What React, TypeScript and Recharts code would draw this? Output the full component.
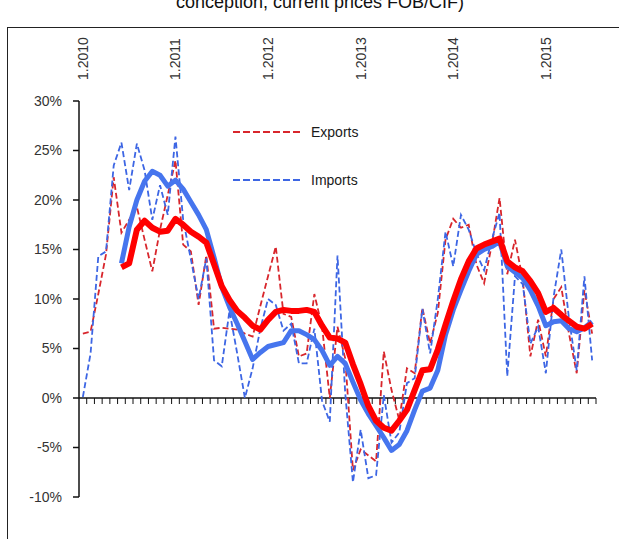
import { LineChart, Line, XAxis, YAxis, ReferenceLine } from "recharts";

const FONT = "'Liberation Sans', Arial, sans-serif";

// Jan 2010 .. Jul 2015, monthly
const MONTHS = Array.from({ length: 67 }, (_, i) => `${(i % 12) + 1}.${2010 + Math.floor(i / 12)}`);
const YEAR_TICKS = ["1.2010", "1.2011", "1.2012", "1.2013", "1.2014", "1.2015"];
const Y_TICKS = [-10, -5, 0, 5, 10, 15, 20, 25, 30];

// y/y change, %
const EXPORTS = [
  6.5, 6.7, 10.5, 14.5, 22.3, 16.7, 18.0, 19.3, 16.0, 12.8, 17.0, 20.5,
  24.0, 15.5, 14.8, 9.4, 14.4, 7.0, 7.1, 7.0, 6.9, 6.5, 6.2, 9.3,
  12.3, 15.3, 8.5, 8.2, 4.2, 4.5, 10.5, 7.2, 0.0, 7.2, 4.0, -7.3,
  -5.2, -5.8, -6.4, 4.7, 0.8, -2.2, 3.0, 2.5, 9.1, 5.5, 8.6, 16.0,
  18.1, 17.2, 17.5, 13.5, 11.6, 15.5, 20.2, 12.5, 16.0, 12.0, 4.2, 7.9,
  4.2, 10.0, 11.2, 6.5, 2.5, 10.9, 6.5,
];
const IMPORTS = [
  0.1, 4.5, 14.3, 14.8, 23.5, 25.8, 21.0, 25.7, 23.0, 18.0, 21.5, 18.5,
  26.4, 18.0, 14.0, 10.0, 14.1, 3.8, 3.2, 8.8, 4.5, 0.0, 3.0, 7.0,
  10.0, 9.4, 6.8, 7.5, 3.5, 3.5, 7.0, -0.3, -2.4, 14.4, 0.5, -8.5,
  -3.2, -8.1, -7.8, 0.3, -4.5, -3.5, 1.5, 2.0, 9.0, 4.5, 10.0, 16.8,
  13.3, 18.5, 17.0, 14.6, 12.9, 16.0, 18.7, 2.2, 12.3, 11.5, 5.5, 7.2,
  2.5, 10.2, 15.0, 8.0, 2.8, 12.3, 3.8,
];
// moving averages (thick lines)
const EXPORTS_MA = [
  null, null, null, null, null, 13.2, 13.6, 17.0, 17.9, 17.2, 16.8, 16.9,
  18.1, 17.5, 16.8, 16.3, 15.7, 13.5, 11.3, 9.9, 8.8, 8.1, 7.3, 6.9,
  7.9, 8.7, 8.9, 8.8, 8.8, 8.9, 8.7, 7.3, 6.1, 6.0, 5.6, 3.4,
  1.4, -0.8, -2.3, -3.0, -3.3, -2.3, -1.2, 0.8, 2.8, 2.9, 4.9, 7.4,
  9.8, 12.0, 13.8, 15.1, 15.5, 15.8, 16.1, 13.8, 13.2, 12.8, 11.8, 10.6,
  8.7, 9.1, 8.4, 7.8, 7.2, 7.0, 7.5,
];
const IMPORTS_MA = [
  null, null, null, null, null, 13.6, 17.3, 20.0, 21.9, 22.9, 22.5, 21.4,
  22.0, 21.1, 19.8, 18.5, 17.0, 14.2, 11.2, 9.2, 7.5, 5.7, 3.9, 4.6,
  5.2, 5.4, 5.6, 6.8, 6.8, 6.4, 5.9, 4.8, 3.3, 4.2, 3.5, 1.6,
  -0.2, -1.6, -2.8, -4.0, -5.3, -4.7, -3.3, -1.2, 0.7, 1.0, 2.8, 6.4,
  8.9, 10.9, 12.8, 14.5, 15.0, 15.3, 15.8, 13.3, 12.7, 12.1, 10.9, 9.3,
  7.3, 7.7, 7.8, 7.0, 6.7, 7.1, 7.7,
];

const data = MONTHS.map((month, i) => ({
  month,
  exports: EXPORTS[i],
  imports: IMPORTS[i],
  exportsMA: EXPORTS_MA[i],
  importsMA: IMPORTS_MA[i],
}));

const RED_DASH = "#d8262c";
const BLUE_DASH = "#3d66e4";
const RED = "#ff0000";
const BLUE = "#4675ee";

const YearTick = (props: any) => {
  const { x, y, payload } = props;
  if (!YEAR_TICKS.includes(payload.value)) return <g />;
  const tx = x + 5;
  return (
    <text x={tx} y={y} transform={`rotate(-90 ${tx} ${y})`} textAnchor="start"
      fontSize={14} fill="#333" fontFamily={FONT}>
      {payload.value}
    </text>
  );
};

// zero line acting as the category axis, with a tick at each month boundary
const ZeroAxis = (props: any) => {
  const { x1, x2, y1 } = props;
  const left = Math.min(x1, x2);
  const right = Math.max(x1, x2);
  const step = (right - left) / MONTHS.length;
  return (
    <g>
      <line x1={left} x2={right} y1={y1} y2={y1} stroke="#111" strokeWidth={1.5} />
      {MONTHS.map((m, k) => (
        <line key={m} x1={left + (k + 1) * step} x2={left + (k + 1) * step}
          y1={y1} y2={y1 + 6} stroke="#111" strokeWidth={1} />
      ))}
    </g>
  );
};

function LegendItem({ color, label, top }: { color: string; label: string; top: number }) {
  return (
    <div style={{ position: "absolute", left: 233, top: top - 9, height: 18, display: "flex", alignItems: "center" }}>
      <svg width={70} height={4} style={{ display: "block" }}>
        <line x1={0} x2={70} y1={2} y2={2} stroke={color} strokeWidth={2} strokeDasharray="7 3" />
      </svg>
      <span style={{ marginLeft: 8, fontSize: 14, color: "#1a1a1a", fontFamily: FONT }}>{label}</span>
    </div>
  );
}

export default function App() {
  return (
    <div style={{ position: "fixed", left: 0, top: 0, width: 619, height: 539, overflow: "hidden", background: "#fff", fontFamily: FONT }}>
      {/* chart title, cut off by the top edge as in the source */}
      <div style={{ position: "absolute", left: 0, top: -7, width: 640, textAlign: "center", fontSize: 18, lineHeight: "18px", color: "#111" }}>
        conception, current prices FOB/CIF)
      </div>
      <div style={{ position: "absolute", left: 7, top: 27, width: 640, height: 600, borderLeft: "1.5px solid #222", borderTop: "1.5px solid #222" }} />
      <div style={{ position: "absolute", left: 0, top: 0 }}>
        <LineChart width={619} height={539} data={data} margin={{ top: 41, right: 23, bottom: 42, left: 19 }}>
          <XAxis dataKey="month" orientation="top" interval={0} height={60} tick={YearTick}
            tickLine={false} axisLine={false} tickSize={0} tickMargin={21}
            padding={{ left: 3.86, right: 3.86 }} />
          <YAxis type="number" domain={[-10, 30]} ticks={Y_TICKS} width={60} interval={0}
            tickFormatter={(v) => `${v}%`} tickSize={6} tickMargin={11}
            axisLine={{ stroke: "#111", strokeWidth: 1.5 }} tickLine={{ stroke: "#111", strokeWidth: 1.5 }}
            tick={{ fontSize: 14, fill: "#333", fontFamily: FONT }} />
          <ReferenceLine y={0} shape={ZeroAxis} />
          <Line type="linear" dataKey="exports" stroke={RED_DASH} strokeWidth={1.8} strokeDasharray="6 3"
            dot={false} isAnimationActive={false} />
          <Line type="linear" dataKey="imports" stroke={BLUE_DASH} strokeWidth={1.8} strokeDasharray="6 3"
            dot={false} isAnimationActive={false} />
          <Line type="linear" dataKey="importsMA" stroke={BLUE} strokeWidth={5} strokeLinejoin="round"
            dot={false} isAnimationActive={false} />
          <Line type="linear" dataKey="exportsMA" stroke={RED} strokeWidth={6} strokeLinejoin="round"
            dot={false} isAnimationActive={false} />
        </LineChart>
      </div>
      <LegendItem color={RED_DASH} label="Exports" top={132} />
      <LegendItem color={BLUE_DASH} label="Imports" top={180} />
    </div>
  );
}
